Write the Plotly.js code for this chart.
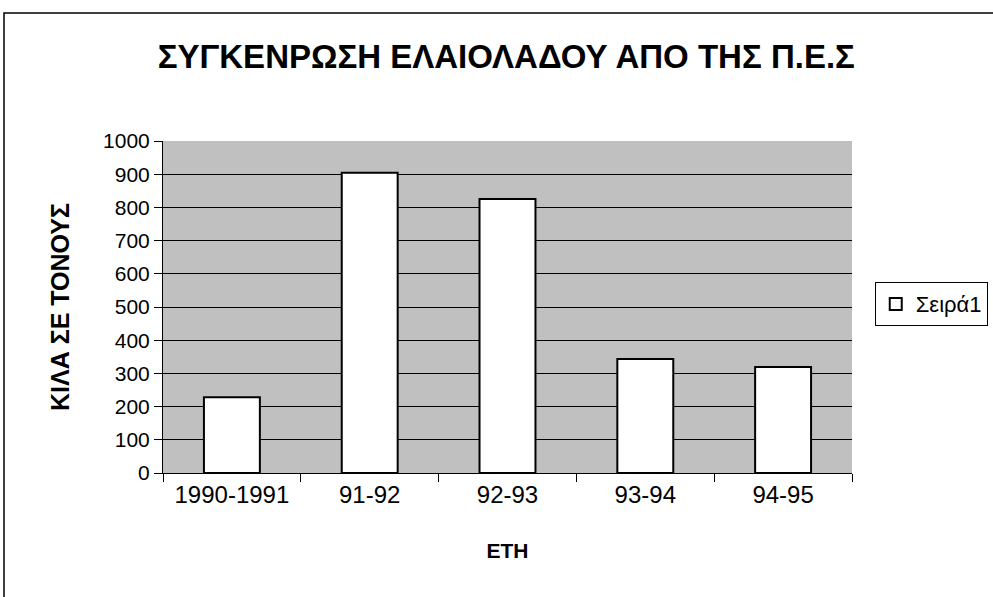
<!DOCTYPE html>
<html>
<head>
<meta charset="utf-8">
<script src="https://cdn.plot.ly/plotly-3.0.1.min.js"></script>
<style>
html,body{margin:0;padding:0;background:#fff;}
#chart{width:993px;height:597px;}
</style>
</head>
<body>
<div id="chart"></div>
<script>
var categories = ["1990-1991", "91-92", "92-93", "93-94", "94-95"];
var values = [228, 904, 825, 343, 319];
var seriesName = "Σειρά1";
var yTicks = [0,100,200,300,400,500,600,700,800,900,1000];

var trace = {
  type: "bar",
  x: categories,
  y: values,
  name: seriesName,
  showlegend: true,
  marker: {color: "#ffffff", line: {color: "#000000", width: 2}},
  hoverinfo: "x+y"
};

var layout = {
  width: 993,
  height: 597,
  margin: {l: 163, r: 141, t: 141, b: 124, autoexpand: false},
  paper_bgcolor: "#ffffff",
  plot_bgcolor: "#c0c0c0",
  font: {family: "Liberation Sans, Arial, sans-serif", color: "#000000"},
  title: {
    text: "<b>ΣΥΓΚΕΝΡΩΣΗ ΕΛΑΙΟΛΑΔΟΥ ΑΠΟ ΤΗΣ Π.Ε.Σ</b>",
    font: {size: 33, family: "Liberation Sans, Arial, sans-serif", color: "#000"},
    x: 0.4982, xref: "paper", xanchor: "center",
    y: 1 - 56/597, yref: "container", yanchor: "middle"
  },
  bargap: 0.594,
  showlegend: true,
  legend: {
    x: 1.033, xanchor: "left", y: 0.575, yanchor: "top",
    bordercolor: "#000", borderwidth: 1, bgcolor: "#fff",
    font: {size: 22},
    itemwidth: 30
  },
  xaxis: {
    type: "category",
    automargin: false,
    showline: true, linecolor: "#000", linewidth: 1,
    ticks: "outside", tickson: "boundaries", ticklen: 8, tickcolor: "#000",
    showgrid: false,
    tickfont: {size: 24},
    title: {text: "<b>ΕΤΗ</b>", font: {size: 21}, standoff: 36}
  },
  yaxis: {
    range: [0, 1000],
    automargin: false,
    tickvals: yTicks,
    ticktext: yTicks.map(String),
    showline: true, linecolor: "#000", linewidth: 1,
    ticks: "outside", ticklen: 8, tickcolor: "#000",
    showgrid: true, gridcolor: "#000", gridwidth: 1,
    zeroline: false,
    tickfont: {size: 21},
    title: {text: "<b>ΚΙΛΑ ΣΕ ΤΟΝΟΥΣ</b>", font: {size: 25}, standoff: 26}
  },
  shapes: [
    {type: "rect", xref: "paper", yref: "paper",
     x0: (4-163)/689, x1: (1000-163)/689, y0: (473-620)/332, y1: (473-13)/332,
     line: {color: "#000", width: 1.5}, fillcolor: "rgba(0,0,0,0)", layer: "below"}
  ]
};

Plotly.newPlot("chart", [trace], layout, {displayModeBar: false, staticPlot: true});
</script>
</body>
</html>
